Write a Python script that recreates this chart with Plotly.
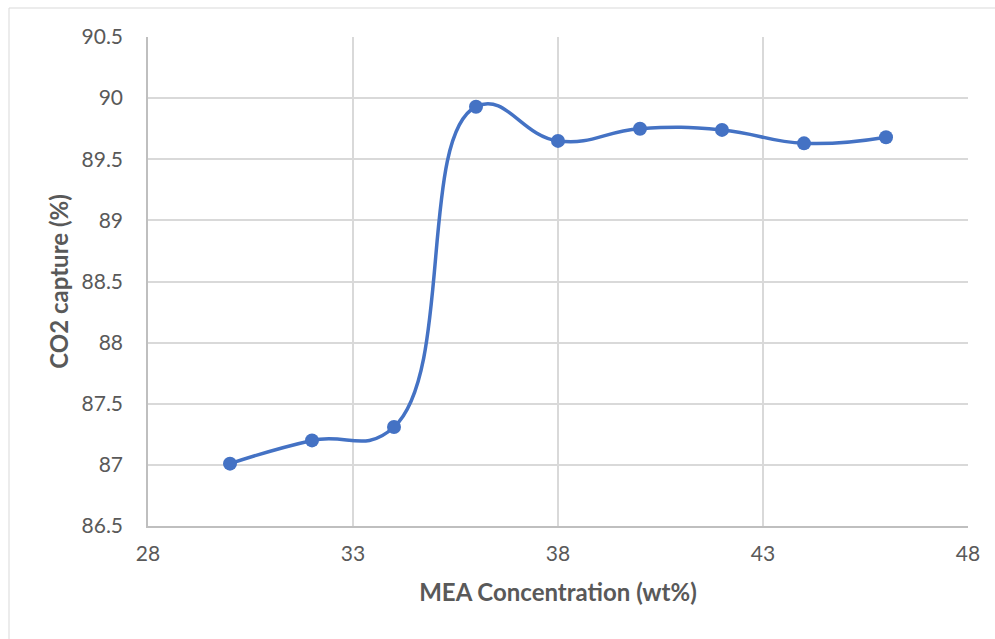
import plotly.graph_objects as go

# MEA concentration (wt%) vs CO2 capture (%)
mea_wt = [30, 32, 34, 36, 38, 40, 42, 44, 46]
co2_capture = [87.01, 87.20, 87.31, 89.93, 89.65, 89.75, 89.74, 89.63, 89.68]

x_ticks = [28, 33, 38, 43, 48]
y_ticks = [86.5, 87, 87.5, 88, 88.5, 89, 89.5, 90, 90.5]
y_tick_text = ["86.5", "87", "87.5", "88", "88.5", "89", "89.5", "90", "90.5"]

line_color = "#4472C4"
grid_color = "#D9D9D9"
axis_color = "#BFBFBF"
text_color = "#595959"
font_family = "Lato, 'Open Sans', sans-serif"

fig = go.Figure()
fig.add_trace(go.Scatter(
    x=mea_wt, y=co2_capture,
    mode="lines+markers",
    line=dict(color=line_color, width=3.5, shape="spline", smoothing=1.3),
    marker=dict(color=line_color, size=14),
    showlegend=False,
    cliponaxis=False,
))

fig.update_layout(
    width=995, height=639,
    margin=dict(l=148, r=27, t=37, b=113),
    paper_bgcolor="white", plot_bgcolor="white",
    font=dict(family=font_family, color=text_color, size=21),
    xaxis=dict(
        range=[28, 48], tickvals=x_ticks, ticktext=[str(v) for v in x_ticks],
        showgrid=True, gridcolor=grid_color, gridwidth=1.5,
        showline=True, linecolor=axis_color, linewidth=1.5,
        zeroline=False, ticks="", ticklabelstandoff=8,
        tickfont=dict(size=21, color=text_color),
        title=dict(text="MEA Concentration (wt%)", standoff=20,
                   font=dict(size=24, color=text_color, family=font_family, weight="bold")),
    ),
    yaxis=dict(
        range=[86.5, 90.5], tickvals=y_ticks, ticktext=y_tick_text,
        showgrid=True, gridcolor=grid_color, gridwidth=1.5,
        showline=True, linecolor=axis_color, linewidth=1.5,
        zeroline=False, ticks="", ticklabelstandoff=19,
        tickfont=dict(size=21, color=text_color),
        title=dict(text="CO2 capture (%)", standoff=6,
                   font=dict(size=24, color=text_color, family=font_family, weight="bold")),
    ),
    shapes=[dict(type="rect", xref="paper", yref="paper",
                 x0=-139 / 820, x1=1.2, y0=-0.3, y1=1 + 29 / 489,
                 line=dict(color="#D9D9D9", width=1), layer="below")],
)

fig.write_html("out.html")
